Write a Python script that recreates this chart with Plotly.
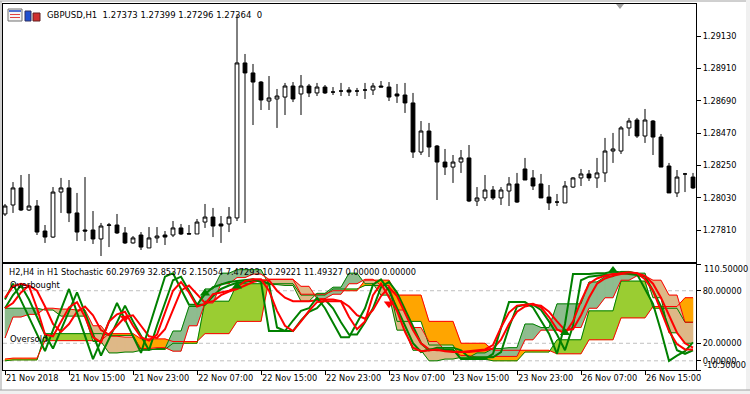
import plotly.graph_objects as go
import pandas as pd

W, H = 750, 394
FONT = "DejaVu Sans"

# ---------------- data ----------------
times = list(pd.date_range("2018-11-21 07:00", "2018-11-23 23:00", freq="h")) + \
        list(pd.date_range("2018-11-26 00:00", "2018-11-26 21:00", freq="h"))
idx = list(range(len(times)))

open_ = [1.27920,1.27981,1.28097,1.27947,1.27974,1.27804,1.27763,1.28069,1.28097,1.27927,
         1.27811,1.27811,1.27750,1.27843,1.27845,1.27791,1.27723,1.27777,1.27689,1.27757,
         1.27777,1.27777,1.27825,1.27786,1.27784,1.27865,1.27899,1.27852,1.27852,1.27893,
         1.28947,1.28879,1.28817,1.28688,1.28702,1.28715,1.28790,1.28736,1.28790,1.28743,
         1.28783,1.28749,1.28756,1.28763,1.28756,1.28763,1.28763,1.28790,1.28783,1.28736,
         1.28729,1.28675,1.28341,1.28484,1.28382,1.28273,1.28239,1.28273,1.28301,1.28008,
         1.28029,1.28083,1.28029,1.28076,1.28124,1.28226,1.28165,1.28124,1.28035,1.28001,
         1.27995,1.28103,1.28165,1.28192,1.28165,1.28199,1.28348,1.28348,1.28505,1.28559,
         1.28450,1.28552,1.28443,1.28246,1.28063,1.28192,1.28171]
high = [1.27988,1.28137,1.28185,1.28192,1.28015,1.27845,1.28103,1.28165,1.28151,1.28063,
        1.28171,1.27940,1.27859,1.27859,1.27920,1.27831,1.27770,1.27797,1.27831,1.27831,
        1.27804,1.27872,1.27852,1.27845,1.27886,1.27988,1.27961,1.27906,1.27967,1.29273,
        1.29008,1.28940,1.28824,1.28858,1.28770,1.28811,1.28817,1.28865,1.28804,1.28811,
        1.28797,1.28783,1.28811,1.28783,1.28777,1.28811,1.28811,1.28824,1.28817,1.28804,
        1.28811,1.28743,1.28552,1.28539,1.28389,1.28362,1.28321,1.28355,1.28389,1.28103,
        1.28185,1.28110,1.28103,1.28171,1.28199,1.28301,1.28219,1.28192,1.28117,1.28056,
        1.28144,1.28171,1.28226,1.28219,1.28301,1.28437,1.28471,1.28518,1.28573,1.28573,
        1.28634,1.28559,1.28464,1.28267,1.28219,1.28199,1.28199]
low = [1.27906,1.27927,1.27940,1.27940,1.27777,1.27723,1.27757,1.27927,1.27865,1.27736,
       1.27736,1.27716,1.27634,1.27695,1.27784,1.27716,1.27718,1.27675,1.27689,1.27723,
       1.27709,1.27763,1.27777,1.27782,1.27784,1.27825,1.27763,1.27723,1.27797,1.27872,
       1.27859,1.28525,1.28627,1.28627,1.28505,1.28593,1.28681,1.28593,1.28715,1.28722,
       1.28736,1.28729,1.28722,1.28722,1.28722,1.28702,1.28729,1.28783,1.28688,1.28675,
       1.28607,1.28301,1.28321,1.28307,1.28015,1.28185,1.28131,1.28199,1.28001,1.27974,
       1.28008,1.28015,1.27981,1.27974,1.27995,1.28151,1.28083,1.28029,1.27947,1.27974,
       1.27995,1.28097,1.28110,1.28144,1.28097,1.28137,1.28267,1.28328,1.28450,1.28437,
       1.28403,1.28321,1.28239,1.28063,1.28035,1.28069,1.28090]
close = [1.27974,1.28097,1.27947,1.27974,1.27797,1.27763,1.28069,1.28097,1.27927,1.27797,
         1.27804,1.27750,1.27838,1.27845,1.27791,1.27723,1.27757,1.27695,1.27757,1.27770,
         1.27763,1.27825,1.27784,1.27784,1.27865,1.27899,1.27838,1.27838,1.27899,1.28947,
         1.28879,1.28817,1.28695,1.28709,1.28722,1.28790,1.28702,1.28790,1.28743,1.28783,
         1.28743,1.28749,1.28756,1.28749,1.28756,1.28763,1.28790,1.28783,1.28715,1.28722,
         1.28675,1.28341,1.28484,1.28375,1.28273,1.28239,1.28273,1.28301,1.28008,1.28029,
         1.28083,1.28029,1.28083,1.28124,1.28001,1.28151,1.28110,1.28029,1.27995,1.28001,
         1.28110,1.28165,1.28192,1.28165,1.28199,1.28348,1.28362,1.28505,1.28552,1.28450,
         1.28559,1.28443,1.28239,1.28063,1.28171,1.28192,1.28097]

price_ticks = [1.29130, 1.28910, 1.28690, 1.28470, 1.28250, 1.28030, 1.27810]
time_tick_idx = [0, 8, 16, 24, 32, 40, 48, 56, 64, 72, 80]
time_tick_text = ["21 Nov 2018", "21 Nov 15:00", "21 Nov 23:00", "22 Nov 07:00", "22 Nov 15:00",
                  "22 Nov 23:00", "23 Nov 07:00", "23 Nov 15:00", "23 Nov 23:00", "26 Nov 07:00",
                  "26 Nov 15:00"]

# H2 cloud (one value per H2 bar)
h2_main = [60,60,60,58,51,51,22,9,10,12,14,34,62,82,100,104,104,87,86,68,77,84,100,88,75,35,12,0,2,4,
           9,14,15,42,38,65,65,90,96,102,100,72,32,20]
h2_sig = [26,50,53,60,59,58,40,28,27,14,15,11,40,66,88,95,99,93,93,85,71,76,88,93,86,58,38,22,12,6,
          4,5,5,24,35,35,38,60,72,92,97,92,75,44]
# H4 cloud (one value per H4 bar)
h4_main = [0,1,31,31,29,13,20,68,88,88,75,82,86,45,18,2,0,10,24,57,91,60,44]
h4_sig = [2,3,23,23,31,25,22,31,45,93,76,80,92,75,45,20,12,12,8,24,49,62,72]

# thick lines (H1 values)
g1 = [70,88,69,50,30,11,35,58,82,55, 29,2,23,45,66,47,28,9,38,67, 96,100,82,64,64,76,84,87,90,91,
      92,93,90,34,34,34,46,57,60,72, 60,44,27,27,44,60,87,93,80,60, 40,20,10,13,13,13,13,2,2,2,
      2,8,38,67,67,67,61,46,31,8, 42,99,99,99,100,100,102,101,100,99, 82,65,34,0,6,11,21]
g2 = [60,75,86,70,50,30,14,36,58,78, 55,30,6,25,45,63,45,28,12,40, 67,92,96,80,64,64,74,82,86,89,
      90,91,92,88,38,34,34,46,56,60, 70,60,44,30,30,44,60,84,90,78, 58,38,20,12,15,15,15,12,4,4,
      4,4,10,38,62,64,64,58,45,30, 12,40,92,96,97,98,99,100,99,98, 96,80,62,36,12,8,12]
r1 = [72,85,88,85,60,30,28,45,61,67, 50,27,21,45,53,56,40,27,23,30, 55,80,90,78,62,65,76,78,80,84,
      91,93,93,80,57,40,34,45,57,67, 68,68,68,50,36,45,75,88,72,57, 33,15,11,12,13,11,10,10,11,12,
      13,18,38,55,63,64,65,61,50,36, 31,45,68,88,94,97,99,100,101,100, 93,80,57,34,19,13,13]
r2 = [60,66,78,86,80,62,42,33,42,56, 62,52,35,30,40,50,52,40,28,26, 36,58,80,86,76,66,68,75,79,82,
      86,90,92,92,80,72,68,68,68,69, 70,70,68,62,52,48,58,74,84,74, 55,35,20,13,12,12,11,10,10,11,
      12,14,24,42,56,62,64,63,56,45, 35,36,52,72,88,94,97,99,100,100, 97,88,72,52,32,20,15]

arrow_up_idx = [25, 29, 70, 76]
arrow_up_val = [77, 85, 32, 103]
arrow_dn_idx = [15, 48]
arrow_dn_val = [49, 65]

levels = [80, 20, 0]


# ---------------- helpers ----------------
def per_bar(block_vals, freq):
    keys = [t.floor(freq) for t in times]
    order = []
    for k in keys:
        if k not in order:
            order.append(k)
    pos = {k: n for n, k in enumerate(order)}
    return [block_vals[pos[k]] for k in keys]


def cloud(main, sig):
    up_x, up_y, dn_x, dn_y = [], [], [], []
    for i in range(len(main) - 1):
        a0, a1, b0, b1 = main[i], main[i + 1], sig[i], sig[i + 1]
        d0, d1 = a0 - b0, a1 - b1
        if d0 == 0 and d1 == 0:
            continue
        if d0 * d1 >= 0:
            tx, ty = (up_x, up_y) if d0 + d1 > 0 else (dn_x, dn_y)
            tx += [i, i + 1, i + 1, i, i, None]
            ty += [a0, a1, b1, b0, a0, None]
        else:
            t = d0 / (d0 - d1)
            xc, yc = i + t, a0 + t * (a1 - a0)
            tx, ty = (up_x, up_y) if d0 > 0 else (dn_x, dn_y)
            tx += [i, xc, i, i, None]
            ty += [a0, yc, b0, a0, None]
            tx, ty = (up_x, up_y) if d1 > 0 else (dn_x, dn_y)
            tx += [xc, i + 1, i + 1, xc, None]
            ty += [yc, a1, b1, yc, None]
    return up_x, up_y, dn_x, dn_y


def px(xp):
    return xp / W


def py(yp):
    return 1 - yp / H


fig = go.Figure()

fig.add_trace(go.Candlestick(
    x=idx, open=open_, high=high, low=low, close=close,
    xaxis="x", yaxis="y", whiskerwidth=0,
    increasing=dict(line=dict(color="black", width=1), fillcolor="white"),
    decreasing=dict(line=dict(color="black", width=1), fillcolor="black"),
    showlegend=False, hoverinfo="skip"))

h4m, h4s = per_bar(h4_main, "4h"), per_bar(h4_sig, "4h")
h2m, h2s = per_bar(h2_main, "2h"), per_bar(h2_sig, "2h")

for (m, s, cu, cd) in [(h4m, h4s, "#9ACD32", "#FFA500"), (h2m, h2s, "#8FBC8F", "#DEB887")]:
    ux, uy, dx, dy = cloud(m, s)
    for xx, yy, c in [(ux, uy, cu), (dx, dy, cd)]:
        fig.add_trace(go.Scatter(x=xx, y=yy, xaxis="x2", yaxis="y2", mode="lines", fill="toself",
                                 fillcolor=c, line=dict(color=c, width=0.6), showlegend=False,
                                 hoverinfo="skip"))

for (m, s) in [(h4m, h4s), (h2m, h2s)]:
    fig.add_trace(go.Scatter(x=idx, y=m, xaxis="x2", yaxis="y2", mode="lines",
                             line=dict(color="#008000", width=1), showlegend=False, hoverinfo="skip"))
    fig.add_trace(go.Scatter(x=idx, y=s, xaxis="x2", yaxis="y2", mode="lines",
                             line=dict(color="#FF0000", width=1), showlegend=False, hoverinfo="skip"))

for ser, col in [(g2, "#008000"), (r2, "#FF0000"), (g1, "#008000"), (r1, "#FF0000")]:
    fig.add_trace(go.Scatter(x=idx, y=ser, xaxis="x2", yaxis="y2", mode="lines",
                             line=dict(color=col, width=2), showlegend=False, hoverinfo="skip"))

fig.add_trace(go.Scatter(x=arrow_up_idx, y=arrow_up_val, xaxis="x2", yaxis="y2", mode="markers",
                         marker=dict(symbol="triangle-up", size=9, color="#008000"),
                         showlegend=False, hoverinfo="skip"))
fig.add_trace(go.Scatter(x=arrow_dn_idx, y=arrow_dn_val, xaxis="x2", yaxis="y2", mode="markers",
                         marker=dict(symbol="triangle-down", size=9, color="#FF0000"),
                         showlegend=False, hoverinfo="skip"))

xr = [-0.25, 86.375]
xdom = [px(3), px(696)]
axis_common = dict(showgrid=False, zeroline=False, showline=True, mirror=True, automargin=False,
                   linecolor="black", linewidth=1, fixedrange=True)
tickfont = dict(family=FONT, size=8.2, color="black")

fig.update_layout(
    width=W, height=H, margin=dict(l=0, r=0, t=0, b=0, autoexpand=False),
    paper_bgcolor="white", plot_bgcolor="white", showlegend=False, boxgap=0.32,
    xaxis=dict(domain=xdom, range=xr, anchor="y", showticklabels=False, ticks="",
               rangeslider=dict(visible=False), **axis_common),
    yaxis=dict(domain=[py(262), py(4)], range=[1.275934, 1.293478], anchor="x", side="right",
               tickvals=price_ticks, ticktext=["%.5f" % v for v in price_ticks],
               ticks="outside", ticklen=4, tickcolor="black", tickfont=tickfont, **axis_common),
    xaxis2=dict(domain=xdom, range=xr, anchor="y2", tickvals=time_tick_idx, ticktext=time_tick_text,
                ticks="outside", ticklen=4, tickcolor="black", ticklabelposition="outside right",
                tickangle=0, tickfont=tickfont, **axis_common),
    yaxis2=dict(domain=[py(370), py(264)], range=[-10.5, 110.5], anchor="x2", side="right",
                tickvals=[110.5, 80, 20, 0, -10.5], ticktext=["", "80.00000", "20.00000", "0.00000", ""],
                ticks="outside", ticklen=4, tickcolor="black", tickfont=tickfont, **axis_common),
)

shapes = []
for lv in levels:
    shapes.append(dict(type="line", xref="x2 domain", yref="y2", x0=0, x1=1, y0=lv, y1=lv,
                       line=dict(color="#C0C0C0", width=1, dash="4px,3px"), layer="below"))
# window frame
shapes += [
    dict(type="line", xref="paper", yref="paper", x0=0, x1=px(746), y0=py(1), y1=py(1),
         line=dict(color="#A0A0A0", width=1)),
    dict(type="line", xref="paper", yref="paper", x0=px(1), x1=px(1), y0=py(1), y1=py(390),
         line=dict(color="#A0A0A0", width=1)),
    dict(type="rect", xref="paper", yref="paper", x0=px(746), x1=1, y0=0, y1=1,
         fillcolor="#F0F0F0", line=dict(width=0)),
    dict(type="rect", xref="paper", yref="paper", x0=0, x1=1, y0=0, y1=py(390),
         fillcolor="#F0F0F0", line=dict(width=0)),
    dict(type="line", xref="paper", yref="paper", x0=0, x1=1, y0=py(390), y1=py(390),
         line=dict(color="#A0A0A0", width=1)),
    dict(type="path", xref="paper", yref="paper",
         path="M %f %f L %f %f L %f %f Z" % (px(616), py(4), px(624), py(4), px(620), py(9)),
         fillcolor="#A0A0A0", line=dict(width=0)),
    # icons
    dict(type="rect", xref="paper", yref="paper", x0=px(8), x1=px(22), y0=py(21), y1=py(9),
         fillcolor="#F4F4F4", line=dict(color="#707070", width=1)),
    dict(type="rect", xref="paper", yref="paper", x0=px(9), x1=px(21), y0=py(12), y1=py(10),
         fillcolor="#5070D0", line=dict(width=0)),
    dict(type="rect", xref="paper", yref="paper", x0=px(10), x1=px(20), y0=py(15), y1=py(14),
         fillcolor="#E04040", line=dict(width=0)),
    dict(type="rect", xref="paper", yref="paper", x0=px(10), x1=px(20), y0=py(18), y1=py(17),
         fillcolor="#E04040", line=dict(width=0)),
    dict(type="rect", xref="paper", yref="paper", x0=px(25), x1=px(31), y0=py(21), y1=py(11),
         fillcolor="#2050D0", line=dict(color="#303060", width=1)),
    dict(type="rect", xref="paper", yref="paper", x0=px(33), x1=px(40), y0=py(21), y1=py(13),
         fillcolor="#D03030", line=dict(color="#602020", width=1)),
]
fig.update_layout(shapes=shapes)

nb = "\u00a0"
ann = [
    dict(text="GBPUSD,H1" + nb * 2 + "1.27373 1.27399 1.27296 1.27364" + nb * 2 + "0",
         x=px(45), y=py(15), size=8.5),
    dict(text="H2,H4 in H1 Stochastic 60.29769 32.85376 2.15054 7.47293 10.29221 11.49327 0.00000 0.00000",
         x=px(7), y=py(272), size=8.2),
    dict(text="Overbought", x=px(8), y=py(285), size=8.4),
    dict(text="Oversold", x=px(8), y=py(339), size=8.4),
]
annotations = [dict(text=a["text"], x=a["x"], y=a["y"], xref="paper", yref="paper",
                    xanchor="left", yanchor="middle", showarrow=False,
                    font=dict(family=FONT, size=a["size"], color="black")) for a in ann]
annotations += [
    dict(text="110.50000", x=1, xref="x2 domain", y=110.5, yref="y2", xanchor="left", yanchor="middle",
         xshift=6, yshift=-5, showarrow=False, font=tickfont),
    dict(text="-10.50000", x=1, xref="x2 domain", y=-10.5, yref="y2", xanchor="left", yanchor="middle",
         xshift=6, yshift=5, showarrow=False, font=tickfont),
]
fig.update_layout(annotations=annotations)

fig.write_html("out.html", config={"displayModeBar": False},
               post_script="document.body.style.margin='0';document.body.style.overflow='hidden';")
